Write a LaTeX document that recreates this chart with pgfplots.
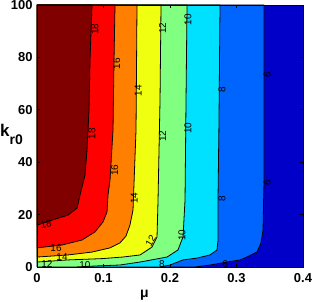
\documentclass[border=0pt]{standalone}
\usepackage{fontspec}
\setmainfont{Liberation Sans}
\usepackage{pgfplots}
\pgfplotsset{compat=1.18}
\usepackage{pgfplotstable}

\definecolor{cDR}{RGB}{128,0,0}
\definecolor{cR}{RGB}{255,0,0}
\definecolor{cO}{RGB}{255,128,0}
\definecolor{cY}{RGB}{240,255,15}
\definecolor{cG}{RGB}{128,255,128}
\definecolor{cC}{RGB}{0,224,255}
\definecolor{cB}{RGB}{0,100,255}
\definecolor{cDB}{RGB}{0,0,200}

\pgfplotstableread{
x y
0 100
0.0827 100
0.0797 79.0
0.0782 59.9
0.0752 44.7
0.0722 35.1
0.0647 27.5
0.0602 22.5
0.0466 19.8
0.0226 17.9
0 16.0
}\cEighteen
\pgfplotstableread{
x y
0 100
0.1173 100
0.1158 79.0
0.1143 52.3
0.1098 33.2
0.1068 27.5
0.1053 21.0
0.0993 17.2
0.0872 13.4
0.0677 10.3
0.0376 8.4
0 7.3
}\cSixteen
\pgfplotstableread{
x y
0 100
0.1504 100
0.1489 52.3
0.1444 21.8
0.1398 16.0
0.1338 11.8
0.1248 9.2
0.1098 7.3
0.0827 5.7
0.0466 4.6
0 3.8
}\cFourteen
\pgfplotstableread{
x y
0 100
0.1865 100
0.1850 63.7
0.1835 44.7
0.1820 25.6
0.1805 11.5
0.1729 7.6
0.1550 4.6
0.1290 3.8
0.0977 3.2
0.0466 2.7
0 1.9
}\cTwelve
\pgfplotstableread{
x y
0 100
0.2256 100
0.2241 63.7
0.2226 25.6
0.2196 11.5
0.2120 6.5
0.1955 3.8
0.1549 1.9
0.1248 0.76
0.0977 0.5
0.0571 0
0 0
}\cTen
\pgfplotstableread{
x y
0 100
0.2752 100
0.2737 56.1
0.2722 25.6
0.2722 10.3
0.2707 6.5
0.2602 4.6
0.2406 3.4
0.2196 2.7
0.2000 0.76
0.1850 0
0 0
}\cEight
\pgfplotstableread{
x y
0 100
0.3414 100
0.3414 33.2
0.3399 14.1
0.3368 9.2
0.3308 5.7
0.3158 3.8
0.3053 2.7
0.2857 1.9
0.2602 0.76
0.2376 0
0 0
}\cSix

\begin{document}
\begin{tikzpicture}
\begin{axis}[
  at={(0,0)}, anchor=south west,
  scale only axis, width=266bp, height=262bp,
  xmin=0, xmax=0.4, ymin=0, ymax=100,
  axis on top,
  tick align=inside, major tick length=3bp,
  xtick={0,0.1,0.2,0.3,0.4}, xticklabels={0,0.1,0.2,0.3,0.4},
  ytick={0,20,40,60,80,100}, yticklabels={0,20,40,60,80,100},
  tick label style={font=\fontsize{13}{15}\selectfont\bfseries},
  xticklabel style={yshift=-3bp},
  yticklabel style={xshift=-1bp},
  /pgf/number format/assume math mode=true,
  axis line style={line width=0.8bp},
  every tick/.style={black, line width=0.6bp},
  clip=true,
]
\addplot[fill=cDB, draw=none] coordinates {(0,0) (0.4,0) (0.4,100) (0,100)} -- cycle;
\addplot[fill=cB, draw=black, line width=0.8bp] table {\cSix} -- cycle;
\addplot[fill=cC, draw=black, line width=0.8bp] table {\cEight} -- cycle;
\addplot[fill=cG, draw=black, line width=0.8bp] table {\cTen} -- cycle;
\addplot[fill=cY, draw=black, line width=0.8bp] table {\cTwelve} -- cycle;
\addplot[fill=cO, draw=black, line width=0.8bp] table {\cFourteen} -- cycle;
\addplot[fill=cR, draw=black, line width=0.8bp] table {\cSixteen} -- cycle;
\addplot[fill=cDR, draw=black, line width=0.8bp] table {\cEighteen} -- cycle;

\begin{scope}[every node/.style={font=\fontsize{10}{10}\selectfont, inner sep=0pt}]
\node[rotate=90] at (axis cs:0.0872,90.8) {18};
\node[rotate=90] at (axis cs:0.0827,50.8) {18};
\node[rotate=10] at (axis cs:0.0135,16.4) {18};
\node[rotate=90] at (axis cs:0.120,77.5) {16};
\node[rotate=90] at (axis cs:0.117,37) {16};
\node at (axis cs:0.0286,7.3) {16};
\node[rotate=90] at (axis cs:0.152,67.2) {14};
\node[rotate=90] at (axis cs:0.146,26.3) {14};
\node at (axis cs:0.0376,3.8) {14};
\node[rotate=90] at (axis cs:0.189,91.2) {12};
\node[rotate=90] at (axis cs:0.189,50) {12};
\node[rotate=60] at (axis cs:0.171,9.9) {12};
\node at (axis cs:0.015,1.1) {12};
\node[rotate=90] at (axis cs:0.227,94.3) {10};
\node[rotate=90] at (axis cs:0.227,53) {10};
\node[rotate=90] at (axis cs:0.218,12.2) {10};
\node at (axis cs:0.072,0.8) {10};
\node[rotate=90] at (axis cs:0.278,67.6) {8};
\node[rotate=90] at (axis cs:0.278,26) {8};
\node at (axis cs:0.188,1.1) {8};
\node[rotate=90] at (axis cs:0.346,73.3) {6};
\node[rotate=90] at (axis cs:0.346,32) {6};
\node at (axis cs:0.283,1.1) {6};
\end{scope}
\end{axis}
\node[anchor=base west, inner sep=0pt] at (-37bp,130bp)
  {\fontsize{17}{17}\selectfont\bfseries k\raisebox{-8bp}{\fontsize{14}{14}\selectfont\bfseries r0}};
\node[anchor=base west, inner sep=0pt, font=\fontsize{14}{14}\selectfont\bfseries] at (103bp,-30bp) {μ};
\pgfresetboundingbox
\path (-37bp,-35bp) rectangle (275bp,267bp);
\end{tikzpicture}
\end{document}
